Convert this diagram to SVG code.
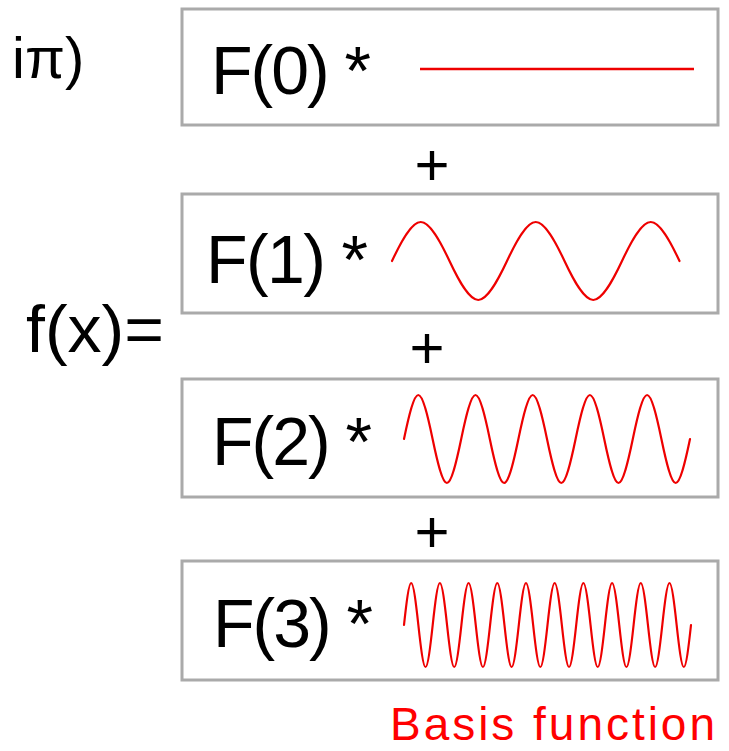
<svg xmlns="http://www.w3.org/2000/svg" width="729" height="751" viewBox="0 0 729 751">
<style>
.box{fill:#fff;stroke:#aaa;stroke-width:3}
.t{font-family:"Liberation Sans",Arial,sans-serif;fill:#000}
.wave{fill:none;stroke:#e00;stroke-width:2.2;stroke-linecap:round}
</style>
<rect width="729" height="751" fill="#fff"/>
<text class="t" x="12" y="78" font-size="58">iπ)</text>
<text class="t" x="26" y="352" font-size="66" textLength="138" lengthAdjust="spacingAndGlyphs">f(x)=</text>
<g id="term0">
<rect class="box" x="182" y="9" width="536" height="116"/>
<text class="t" x="211" y="94" font-size="68" textLength="160" lengthAdjust="spacing">F(0) *</text>
<line x1="420" y1="69" x2="694" y2="69" stroke="#e00" stroke-width="2.5"/>
</g>
<g id="term1">
<rect class="box" x="182" y="194" width="536" height="119"/>
<text class="t" x="206" y="283" font-size="68" textLength="162" lengthAdjust="spacing">F(1) *</text>
<path class="wave" d="M392,261 c9.38,-19.98 19.6,-39 28.75,-39 s19.38,19.02 28.75,39 s19.6,39 28.75,39 s19.38,-19.02 28.75,-39 s19.6,-39 28.75,-39 s19.38,19.02 28.75,39 s19.6,39 28.75,39 s19.38,-19.02 28.75,-39 s19.6,-39 28.75,-39 s19.38,19.02 28.75,39"/>
</g>
<g id="term2">
<rect class="box" x="182" y="379" width="536" height="118"/>
<text class="t" x="212" y="465" font-size="68" textLength="160" lengthAdjust="spacing">F(2) *</text>
<path class="wave" d="M404,439 c4.66,-22.5 9.75,-44 14.3,-44 s9.64,21.5 14.3,44 s9.75,44 14.3,44 s9.64,-21.5 14.3,-44 s9.75,-44 14.3,-44 s9.64,21.5 14.3,44 s9.75,44 14.3,44 s9.64,-21.5 14.3,-44 s9.75,-44 14.3,-44 s9.64,21.5 14.3,44 s9.75,44 14.3,44 s9.64,-21.5 14.3,-44 s9.75,-44 14.3,-44 s9.64,21.5 14.3,44 s9.75,44 14.3,44 s9.64,-21.5 14.3,-44 s9.75,-44 14.3,-44 s9.64,21.5 14.3,44 s9.75,44 14.3,44 s9.64,-21.5 14.3,-44"/>
</g>
<g id="term3">
<rect class="box" x="182" y="561" width="536" height="119"/>
<text class="t" x="213" y="647" font-size="68" textLength="160" lengthAdjust="spacing">F(3) *</text>
<path class="wave" stroke-width="2.5" d="M404,625 c2.34,-21.51 4.89,-42 7.175,-42 s4.835,20.49 7.175,42 s4.89,42 7.175,42 s4.835,-20.49 7.175,-42 s4.89,-42 7.175,-42 s4.835,20.49 7.175,42 s4.89,42 7.175,42 s4.835,-20.49 7.175,-42 s4.89,-42 7.175,-42 s4.835,20.49 7.175,42 s4.89,42 7.175,42 s4.835,-20.49 7.175,-42 s4.89,-42 7.175,-42 s4.835,20.49 7.175,42 s4.89,42 7.175,42 s4.835,-20.49 7.175,-42 s4.89,-42 7.175,-42 s4.835,20.49 7.175,42 s4.89,42 7.175,42 s4.835,-20.49 7.175,-42 s4.89,-42 7.175,-42 s4.835,20.49 7.175,42 s4.89,42 7.175,42 s4.835,-20.49 7.175,-42 s4.89,-42 7.175,-42 s4.835,20.49 7.175,42 s4.89,42 7.175,42 s4.835,-20.49 7.175,-42 s4.89,-42 7.175,-42 s4.835,20.49 7.175,42 s4.89,42 7.175,42 s4.835,-20.49 7.175,-42 s4.89,-42 7.175,-42 s4.835,20.49 7.175,42 s4.89,42 7.175,42 s4.835,-20.49 7.175,-42 s4.89,-42 7.175,-42 s4.835,20.49 7.175,42 s4.89,42 7.175,42 s4.835,-20.49 7.175,-42"/>
</g>
<g id="connectors">
<text class="t" x="432" y="185" font-size="60" text-anchor="middle">+</text>
<text class="t" x="427" y="368" font-size="60" text-anchor="middle">+</text>
<text class="t" x="432" y="552" font-size="60" text-anchor="middle">+</text>
</g>
<text x="390" y="740" font-family="Liberation Sans, Arial, sans-serif" font-size="46" fill="#f00" textLength="325" lengthAdjust="spacing">Basis function</text>
</svg>
